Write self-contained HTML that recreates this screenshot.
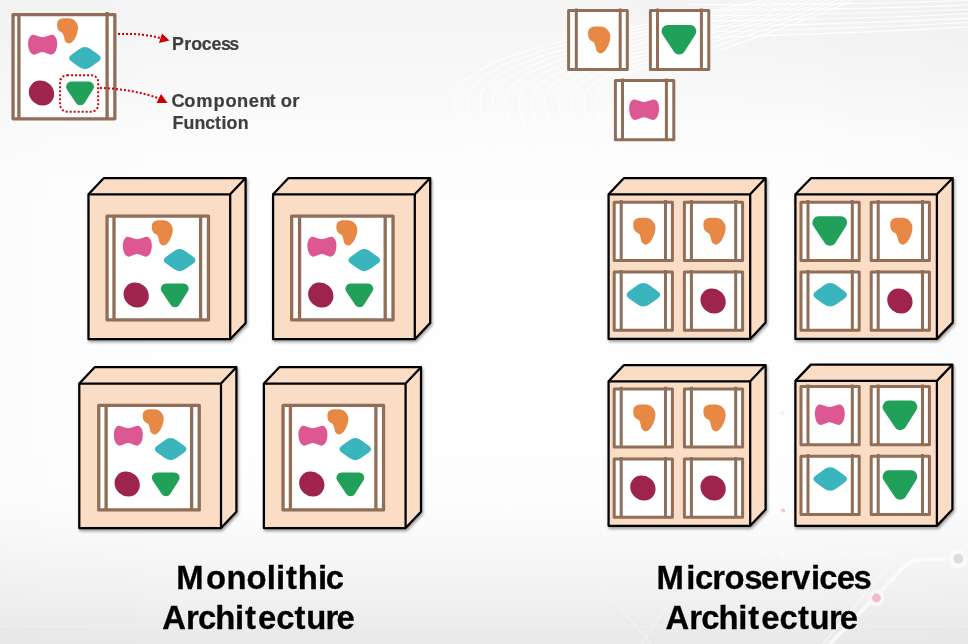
<!DOCTYPE html>
<html lang="en">
<head>
<meta charset="utf-8">
<style>
html,body{margin:0;padding:0}
body{width:968px;height:644px;overflow:hidden;position:relative;background:#f4f4f4;font-family:"Liberation Sans","DejaVu Sans",sans-serif}
#bg{position:absolute;left:0;top:0;width:968px;height:644px;background:
radial-gradient(ellipse 420px 150px at 100% 0%,rgba(0,0,0,.012) 0%,rgba(0,0,0,.008) 50%,rgba(0,0,0,0) 100%),
linear-gradient(90deg,rgba(0,0,0,.008) 0%,rgba(0,0,0,0) 20%,rgba(0,0,0,0) 80%,rgba(0,0,0,.006) 100%),
linear-gradient(180deg,#f5f5f5 0%,#f5f5f5 3%,#f8f8f8 11.5%,#fcfcfc 22%,#fefefe 31%,#fefefe 70%,#fdfdfd 78%,#f7f7f7 86%,#f0f0f0 93.6%,#ebebeb 97.5%,#e9e9e9 100%)}
svg{position:absolute;left:0;top:0;will-change:transform;filter:blur(0.55px)}
.lbl{font:bold 17.8px "Liberation Sans","DejaVu Sans",sans-serif;fill:#3e3e3e;stroke:#3e3e3e;stroke-width:.2px}
.ttl{font:bold 32.8px "Liberation Sans","DejaVu Sans",sans-serif;fill:#000;stroke:#000;stroke-width:.3px}
</style>
</head>
<body>
<div id="bg"></div>
<svg width="968" height="644" viewBox="0 0 968 644">
<defs>
<path id="so" d="M66,18.15 C67.77,18.15 70.03,18.19 71.6,18.7 C73.17,19.21 74.4,20.17 75.4,21.2 C76.4,22.23 77.17,23.63 77.6,24.9 C78.03,26.17 78.15,27.18 78,28.8 C77.85,30.42 77.45,32.63 76.7,34.6 C75.95,36.57 74.73,39.1 73.5,40.6 C72.27,42.1 70.65,43.43 69.3,43.6 C67.95,43.77 66.28,42.72 65.4,41.6 C64.52,40.48 64.47,38.3 64,36.9 C63.53,35.5 63.33,34.13 62.6,33.2 C61.87,32.27 60.42,32.03 59.6,31.3 C58.78,30.57 58.12,29.92 57.7,28.8 C57.28,27.68 57.07,25.9 57.1,24.6 C57.13,23.3 57.25,21.98 57.9,21 C58.55,20.02 59.65,19.18 61,18.7 C62.35,18.22 64.23,18.15 66,18.15 Z" fill="#e88845"/>
<path id="sp" d="M33.3,34.8 C32.1,34.77 31.33,35.23 30.6,35.9 C29.87,36.57 29.32,37.52 28.9,38.8 C28.48,40.08 28.12,41.93 28.1,43.6 C28.08,45.27 28.42,47.3 28.8,48.8 C29.18,50.3 29.6,51.62 30.4,52.6 C31.2,53.58 32.37,54.53 33.6,54.7 C34.83,54.87 36.32,54.03 37.8,53.6 C39.28,53.17 40.9,52.1 42.47,52.1 C44.04,52.1 45.7,53.17 47.2,53.6 C48.71,54.03 50.23,54.87 51.5,54.7 C52.77,54.53 53.97,53.58 54.8,52.6 C55.63,51.62 56.11,50.27 56.5,48.8 C56.89,47.33 57.17,45.47 57.15,43.8 C57.13,42.13 56.82,40.12 56.4,38.8 C55.98,37.48 55.37,36.57 54.6,35.9 C53.83,35.23 53.03,34.77 51.8,34.8 C50.57,34.83 48.76,35.67 47.2,36.1 C45.65,36.53 44.04,37.35 42.47,37.35 C40.9,37.35 39.33,36.53 37.8,36.1 C36.27,35.67 34.5,34.83 33.3,34.8 Z" fill="#dd5892"/>
<path id="st" d="M71.39,61.51 Q66.75,58.15 71.39,54.79 L79.1,49.19 Q84.95,44.95 90.8,49.19 L98.51,54.79 Q103.15,58.15 98.51,61.51 L90.8,67.11 Q84.95,71.35 79.1,67.11 Z" fill="#3ab4bd"/>
<ellipse id="sc" cx="41.47" cy="93.05" rx="13.1" ry="12" transform="rotate(40 41.47 93.05)" fill="#9e244e"/>
<path id="sg" d="M66.95,89.43 A5.1,5.1 0 0 1 71.2,81.5 L88.9,81.5 A5.1,5.1 0 0 1 93.2,89.34 L84.55,102.94 A5.1,5.1 0 0 1 76,103.03 Z" fill="#20a058"/>
<g id="five"><use href="#so"/><use href="#sp"/><use href="#st"/><use href="#sc"/><use href="#sg"/></g>
<filter id="sh" x="-10%" y="-10%" width="125%" height="125%"><feGaussianBlur in="SourceAlpha" stdDeviation="1.6"/><feOffset dx="1.2" dy="2.2"/><feComponentTransfer><feFuncA type="linear" slope="0.38"/></feComponentTransfer><feMerge><feMergeNode/><feMergeNode in="SourceGraphic"/></feMerge></filter>
</defs>
<g fill="none" stroke="#fff" stroke-opacity=".9" stroke-width="1.1"><path d="M770,-2 C705,14 630,27 566,40.5 C510,52 454,76 454,100 C454,124 472,152 498,176"/><path d="M778,-2 C715,14.3 642,27.8 579,41.7 C523,53 467,76 467,100 C467,124 485,152 511,176"/><path d="M786,-2 C725,14.6 654,28.6 592,42.9 C536,54 480,76 480,100 C480,124 498,152 524,176"/><path d="M794,-2 C735,14.9 666,29.4 605,44.1 C549,55 493,76 493,100 C493,124 511,152 537,176"/><path d="M802,-2 C745,15.2 678,30.2 618,45.3 C562,56 506,76 506,100 C506,124 524,152 550,176"/><path d="M810,-2 C755,15.5 690,31 631,46.5 C575,57 519,76 519,100 C519,124 537,152 563,176"/><path d="M818,-2 C765,15.8 702,31.8 644,47.7 C588,58 532,76 532,100 C532,124 550,152 576,176"/><path d="M826,-2 C775,16.1 714,32.6 657,48.9 C601,59 545,76 545,100 C545,124 563,152 589,176"/><path d="M834,-2 C785,16.4 726,33.4 670,50.1 C614,60 558,76 558,100 C558,124 576,152 602,176"/><path d="M842,-2 C795,16.7 738,34.2 683,51.3 C627,61 571,76 571,100 C571,124 589,152 615,176"/><path d="M850,-2 C805,17 750,35 696,52.5 C640,62 584,76 584,100 C584,124 602,152 628,176"/><path d="M858,-2 C815,17.3 762,35.8 709,53.7 C653,63 597,76 597,100 C597,124 615,152 641,176"/><path d="M968,0.5 C880,4 790,5 690,4.5"/><path d="M968,4.9 C880,8.7 790,10 690,10.1"/><path d="M968,9.3 C880,13.4 790,15 690,15.7"/><path d="M968,13.7 C880,18.1 790,20 690,21.3"/><path d="M968,18.1 C880,22.8 790,25 690,26.9"/><path d="M968,22.5 C880,27.5 790,30 690,32.5"/><path d="M968,26.9 C880,32.2 790,35 690,38.1"/></g><g fill="none" stroke="#fafafa" stroke-linecap="round"><path d="M958,559 H925 C914,559 908,563 901,570 L829,645" stroke-width="4" stroke-opacity=".85"/><path d="M758,528 V546 C758,552 762,555 768,555 H888 C894,555 895,558 891,563 L822,645" stroke-width="1.6" stroke-opacity=".7"/><path d="M566,545 L652,645 M700,560 L640,645" stroke-width="1.4" stroke-opacity=".5"/><path d="M0,626.8 H968" stroke-width="1.6" stroke-opacity=".2" stroke-linecap="butt"/></g><circle cx="783.3" cy="555" r="3.2" fill="#f9f9f9"/><circle cx="844.4" cy="555" r="3.2" fill="#f8f8f8"/><circle cx="876.4" cy="598" r="8" fill="#f8f8f8"/><circle cx="876.4" cy="598" r="4.4" fill="#f4b9c8"/><circle cx="958.3" cy="558.8" r="9.5" fill="#fafafa"/><circle cx="958.3" cy="558.8" r="5" fill="#dddddd"/><circle cx="783.2" cy="510.6" r="2" fill="#f6c3d0"/><circle cx="782.7" cy="412.8" r="2.2" fill="#f3f3f3"/>
<rect x="13.05" y="14.55" width="101.8" height="104.3" fill="#fff" stroke="#906e58" stroke-width="3.3" stroke-linejoin="round"/><path d="M18.9,13.9 V118.85 M107.1,12 V118.85" fill="none" stroke="#906e58" stroke-width="3.3"/>
<use href="#five"/>
<rect x="60.1" y="75.2" width="38.1" height="36.5" rx="7" ry="7" fill="none" stroke="#d00000" stroke-width="2" stroke-dasharray="2 2"/>
<path d="M118,34 C135,33.5 150,34.8 162,38.6" fill="none" stroke="#d00000" stroke-width="2" stroke-dasharray="2 2"/>
<path d="M169.5,40.5 L159,43 L162,33.5 Z" fill="#d00000"/>
<path d="M100,88 C120,88.3 143,92.3 160.5,99" fill="none" stroke="#d00000" stroke-width="2" stroke-dasharray="2 2"/>
<path d="M167.5,103 L156.5,103 L161,94 Z" fill="#d00000"/>
<g fill="#fbdcc4" stroke="#000" stroke-width="2.25" stroke-linejoin="round"><path filter="url(#sh)" d="M88.5,194.3 L103.9,178 H245.6 V322.9 L230.2,339.2 H88.5 Z"/><path d="M88.5,194.3 H230.2 V339.2 M230.2,194.3 L245.6,178" fill="none"/></g><rect x="107.05" y="216.15" width="101.4" height="103.8" fill="#fff" stroke="#906e58" stroke-width="3.3" stroke-linejoin="round"/><path d="M114,215.5 V319.95 M200.6,215.5 V319.95" fill="none" stroke="#906e58" stroke-width="3.3"/><use href="#five" transform="translate(94.7,202)"/>
<g fill="#fbdcc4" stroke="#000" stroke-width="2.25" stroke-linejoin="round"><path filter="url(#sh)" d="M273.1,194.3 L288.5,178 H430.2 V322.9 L414.8,339.2 H273.1 Z"/><path d="M273.1,194.3 H414.8 V339.2 M414.8,194.3 L430.2,178" fill="none"/></g><rect x="291.65" y="216.15" width="101.4" height="103.8" fill="#fff" stroke="#906e58" stroke-width="3.3" stroke-linejoin="round"/><path d="M299.6,215.5 V319.95 M385.2,215.5 V319.95" fill="none" stroke="#906e58" stroke-width="3.3"/><use href="#five" transform="translate(279.3,202)"/>
<g fill="#fbdcc4" stroke="#000" stroke-width="2.25" stroke-linejoin="round"><path filter="url(#sh)" d="M79.3,383.5 L94.7,367.2 H236.4 V511.7 L221,528 H79.3 Z"/><path d="M79.3,383.5 H221 V528 M221,383.5 L236.4,367.2" fill="none"/></g><rect x="98.75" y="405.35" width="100.5" height="104.6" fill="#fff" stroke="#906e58" stroke-width="3.3" stroke-linejoin="round"/><path d="M106.1,404.7 V509.95 M191.6,404.7 V509.95" fill="none" stroke="#906e58" stroke-width="3.3"/><use href="#five" transform="translate(85.7,391)"/>
<g fill="#fbdcc4" stroke="#000" stroke-width="2.25" stroke-linejoin="round"><path filter="url(#sh)" d="M263.9,383.5 L279.3,367.2 H421 V511.7 L405.6,528 H263.9 Z"/><path d="M263.9,383.5 H405.6 V528 M405.6,383.5 L421,367.2" fill="none"/></g><rect x="283.05" y="405.35" width="100.5" height="104.6" fill="#fff" stroke="#906e58" stroke-width="3.3" stroke-linejoin="round"/><path d="M290.4,404.7 V509.95 M375.9,404.7 V509.95" fill="none" stroke="#906e58" stroke-width="3.3"/><use href="#five" transform="translate(270.3,391)"/>
<rect x="568.6" y="10.5" width="58.7" height="59.1" fill="#fff" stroke="#906e58" stroke-width="3.0" stroke-linejoin="round"/><path d="M576.3,8.4 V69.6 M620.2,8.4 V69.6" fill="none" stroke="#906e58" stroke-width="3.0"/><use href="#so" transform="translate(599.15,39.9) scale(1.06) translate(-67.55,-30.85)"/>
<rect x="650.4" y="10.5" width="58.4" height="59.1" fill="#fff" stroke="#906e58" stroke-width="3.0" stroke-linejoin="round"/><path d="M657.5,8.4 V69.6 M701.4,8.4 V69.6" fill="none" stroke="#906e58" stroke-width="3.0"/><use href="#sg" transform="translate(679,39.8) scale(1.24) translate(-80.08,-93.42)"/>
<rect x="615.4" y="80.6" width="58.4" height="59.1" fill="#fff" stroke="#906e58" stroke-width="3.0" stroke-linejoin="round"/><path d="M622.5,78.5 V139.7 M666.4,78.5 V139.7" fill="none" stroke="#906e58" stroke-width="3.0"/><use href="#sp" transform="translate(644.1,109.65) scale(1.03) translate(-42.63,-44.75)"/>
<g fill="#fbdcc4" stroke="#000" stroke-width="2.25" stroke-linejoin="round"><path filter="url(#sh)" d="M608.6,194.3 L624,178 H765.6 V322.6 L750.2,338.9 H608.6 Z"/><path d="M608.6,194.3 H750.2 V338.9 M750.2,194.3 L765.6,178" fill="none"/></g><rect x="614.2" y="202.2" width="58.2" height="58.2" fill="#fff" stroke="#906e58" stroke-width="3.0" stroke-linejoin="round"/><path d="M621.2,200.1 V260.4 M665.5,200.1 V260.4" fill="none" stroke="#906e58" stroke-width="3.0"/><use href="#so" transform="translate(644.3,231.15) scale(1.06) translate(-67.55,-30.85)"/><rect x="684.4" y="202.2" width="58.2" height="58.2" fill="#fff" stroke="#906e58" stroke-width="3.0" stroke-linejoin="round"/><path d="M691.4,200.1 V260.4 M735.7,200.1 V260.4" fill="none" stroke="#906e58" stroke-width="3.0"/><use href="#so" transform="translate(714.5,231.15) scale(1.06) translate(-67.55,-30.85)"/><rect x="614.2" y="272" width="58.2" height="58.2" fill="#fff" stroke="#906e58" stroke-width="3.0" stroke-linejoin="round"/><path d="M621.2,269.9 V330.2 M665.5,269.9 V330.2" fill="none" stroke="#906e58" stroke-width="3.0"/><use href="#st" transform="translate(643.4,294.85) scale(1.06) translate(-84.95,-58.15)"/><rect x="684.4" y="272" width="58.2" height="58.2" fill="#fff" stroke="#906e58" stroke-width="3.0" stroke-linejoin="round"/><path d="M691.4,269.9 V330.2 M735.7,269.9 V330.2" fill="none" stroke="#906e58" stroke-width="3.0"/><use href="#sc" transform="translate(713.1,301) scale(1.0) translate(-41.47,-93.05)"/>
<g fill="#fbdcc4" stroke="#000" stroke-width="2.25" stroke-linejoin="round"><path filter="url(#sh)" d="M795.4,194.3 L811.2,178 H952.7 V322.6 L936.9,338.9 H795.4 Z"/><path d="M795.4,194.3 H936.9 V338.9 M936.9,194.3 L952.7,178" fill="none"/></g><rect x="801" y="202.2" width="58.2" height="58.2" fill="#fff" stroke="#906e58" stroke-width="3.0" stroke-linejoin="round"/><path d="M808,200.1 V260.4 M852.3,200.1 V260.4" fill="none" stroke="#906e58" stroke-width="3.0"/><use href="#sg" transform="translate(829.8,231.1) scale(1.24) translate(-80.08,-93.42)"/><rect x="871.2" y="202.2" width="58.2" height="58.2" fill="#fff" stroke="#906e58" stroke-width="3.0" stroke-linejoin="round"/><path d="M878.2,200.1 V260.4 M922.5,200.1 V260.4" fill="none" stroke="#906e58" stroke-width="3.0"/><use href="#so" transform="translate(901.3,231.15) scale(1.06) translate(-67.55,-30.85)"/><rect x="801" y="272" width="58.2" height="58.2" fill="#fff" stroke="#906e58" stroke-width="3.0" stroke-linejoin="round"/><path d="M808,269.9 V330.2 M852.3,269.9 V330.2" fill="none" stroke="#906e58" stroke-width="3.0"/><use href="#st" transform="translate(830.2,294.85) scale(1.06) translate(-84.95,-58.15)"/><rect x="871.2" y="272" width="58.2" height="58.2" fill="#fff" stroke="#906e58" stroke-width="3.0" stroke-linejoin="round"/><path d="M878.2,269.9 V330.2 M922.5,269.9 V330.2" fill="none" stroke="#906e58" stroke-width="3.0"/><use href="#sc" transform="translate(899.9,301) scale(1.0) translate(-41.47,-93.05)"/>
<g fill="#fbdcc4" stroke="#000" stroke-width="2.25" stroke-linejoin="round"><path filter="url(#sh)" d="M608.6,381.3 L624,365 H765.6 V509.55 L750.2,525.85 H608.6 Z"/><path d="M608.6,381.3 H750.2 V525.85 M750.2,381.3 L765.6,365" fill="none"/></g><rect x="614.2" y="388.9" width="58.2" height="58.2" fill="#fff" stroke="#906e58" stroke-width="3.0" stroke-linejoin="round"/><path d="M621.2,386.8 V447.1 M665.5,386.8 V447.1" fill="none" stroke="#906e58" stroke-width="3.0"/><use href="#so" transform="translate(644.3,417.85) scale(1.06) translate(-67.55,-30.85)"/><rect x="684.4" y="388.9" width="58.2" height="58.2" fill="#fff" stroke="#906e58" stroke-width="3.0" stroke-linejoin="round"/><path d="M691.4,386.8 V447.1 M735.7,386.8 V447.1" fill="none" stroke="#906e58" stroke-width="3.0"/><use href="#so" transform="translate(714.5,417.85) scale(1.06) translate(-67.55,-30.85)"/><rect x="614.2" y="459" width="58.2" height="58.2" fill="#fff" stroke="#906e58" stroke-width="3.0" stroke-linejoin="round"/><path d="M621.2,456.9 V517.2 M665.5,456.9 V517.2" fill="none" stroke="#906e58" stroke-width="3.0"/><use href="#sc" transform="translate(642.9,488) scale(1.0) translate(-41.47,-93.05)"/><rect x="684.4" y="459" width="58.2" height="58.2" fill="#fff" stroke="#906e58" stroke-width="3.0" stroke-linejoin="round"/><path d="M691.4,456.9 V517.2 M735.7,456.9 V517.2" fill="none" stroke="#906e58" stroke-width="3.0"/><use href="#sc" transform="translate(713.1,488) scale(1.0) translate(-41.47,-93.05)"/>
<g fill="#fbdcc4" stroke="#000" stroke-width="2.25" stroke-linejoin="round"><path filter="url(#sh)" d="M795.4,380.9 L810.9,364.6 H952.4 V509.55 L936.9,525.85 H795.4 Z"/><path d="M795.4,380.9 H936.9 V525.85 M936.9,380.9 L952.4,364.6" fill="none"/></g><rect x="801" y="386.5" width="58.2" height="58.2" fill="#fff" stroke="#906e58" stroke-width="3.0" stroke-linejoin="round"/><path d="M808,384.4 V444.7 M852.3,384.4 V444.7" fill="none" stroke="#906e58" stroke-width="3.0"/><use href="#sp" transform="translate(829.8,414.7) scale(1.03) translate(-42.63,-44.75)"/><rect x="871.2" y="386.5" width="58.2" height="58.2" fill="#fff" stroke="#906e58" stroke-width="3.0" stroke-linejoin="round"/><path d="M878.2,384.4 V444.7 M922.5,384.4 V444.7" fill="none" stroke="#906e58" stroke-width="3.0"/><use href="#sg" transform="translate(900,415.4) scale(1.24) translate(-80.08,-93.42)"/><rect x="801" y="456.2" width="58.2" height="58.2" fill="#fff" stroke="#906e58" stroke-width="3.0" stroke-linejoin="round"/><path d="M808,454.1 V514.4 M852.3,454.1 V514.4" fill="none" stroke="#906e58" stroke-width="3.0"/><use href="#st" transform="translate(830.2,479.05) scale(1.06) translate(-84.95,-58.15)"/><rect x="871.2" y="456.2" width="58.2" height="58.2" fill="#fff" stroke="#906e58" stroke-width="3.0" stroke-linejoin="round"/><path d="M878.2,454.1 V514.4 M922.5,454.1 V514.4" fill="none" stroke="#906e58" stroke-width="3.0"/><use href="#sg" transform="translate(900,485.1) scale(1.24) translate(-80.08,-93.42)"/>
<text class="lbl" x="172.1 184.3 191.3 201.8 211.5 220.9 229.3" y="49.7">Process</text>
<text class="lbl" style="font-size:18.3px" x="171.4 184.3 196.3 213.6 225.4 237.1 248.7 259.4 269.6 275.6 280.7 292.2" y="106.6">Component or</text>
<text class="lbl" x="172.4 183.4 194.6 205.3 215.1 221.4 226.5 237.7" y="128.6">Function</text>
<text class="ttl" x="176.2 206.1 226.6 246.5 266.8 276.1 285.9 297.7 317.9 325.7" y="589">Monolithic</text>
<text class="ttl" x="162.3 186 197.9 215.2 235 244.9 258 276.3 294.6 306.3 325.6 336.4" y="629.1">Architecture</text>
<text class="ttl" x="656.6 686.3 694.9 712.2 724.6 744.2 761 779.7 792.1 810.9 819.2 836.8 853.6" y="589">Microservices</text>
<text class="ttl" x="665.6 689.3 701.2 718.5 738.3 748.2 761.3 779.6 797.9 809.6 828.9 839.7" y="629.1">Architecture</text>
</svg>
</body>
</html>
